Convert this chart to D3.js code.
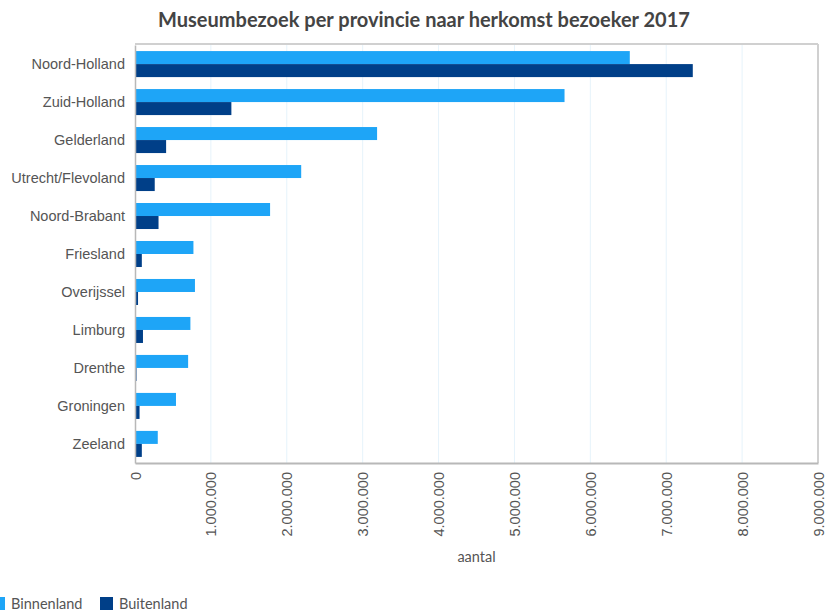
<!DOCTYPE html>
<html>
<head>
<meta charset="utf-8">
<script src="https://cdn.jsdelivr.net/npm/d3@7"></script>
<style>
  body { margin: 0; background: #fff; }
  svg { font-family: Lato, "Open Sans", sans-serif; }
</style>
</head>
<body>
<div id="chart"></div>
<script>
// Data
const provinces = ["Noord-Holland", "Zuid-Holland", "Gelderland", "Utrecht/Flevoland", "Noord-Brabant",
    "Friesland", "Overijssel", "Limburg", "Drenthe", "Groningen", "Zeeland"];
const binnenland = [6520000, 5660000, 3190000, 2190000, 1780000, 770000, 790000, 730000, 700000, 540000, 300000];
const buitenland = [7350000, 1270000, 410000, 260000, 310000, 90000, 40000, 105000, 20000, 60000, 90000];
const xTicks = [0, 1000000, 2000000, 3000000, 4000000, 5000000, 6000000, 7000000, 8000000, 9000000];
const seriesNames = ["Binnenland", "Buitenland"];
const colors = ["#1ea5f7", "#003f88"];

const W = 829, H = 612;
const margin = { top: 45, right: 11, bottom: 149, left: 135 };
const width = W - margin.left - margin.right;
const height = H - margin.top - margin.bottom;

const svg = d3.select("#chart").append("svg")
    .attr("width", W)
    .attr("height", H);

// Title
svg.append("text")
    .attr("x", 424).attr("y", 27)
    .attr("text-anchor", "middle")
    .style("font-size", "20px").style("font-weight", "bold")
    .attr("fill", "#444")
    .text("Museumbezoek per provincie naar herkomst bezoeker 2017");

const g = svg.append("g")
    .attr("transform", "translate(" + margin.left + "," + margin.top + ")");

const x = d3.scaleLinear().domain([0, 9000000]).range([0, width]);
const y = d3.scaleBand().domain(provinces).range([0, height]).paddingInner(0.315).paddingOuter(0.16);
const ySub = d3.scaleBand().domain(seriesNames).range([0, y.bandwidth()]);

// Gridlines
g.selectAll(".grid").data(xTicks.slice(1, -1)).enter().append("line")
    .attr("x1", d => x(d)).attr("x2", d => x(d))
    .attr("y1", 0).attr("y2", height)
    .attr("stroke", "#e6f3fb").attr("stroke-width", 1);

// Bars
const rows = provinces.map((p, i) => ({ p, vals: [binnenland[i], buitenland[i]] }));
const group = g.selectAll(".row").data(rows).enter().append("g")
    .attr("transform", d => "translate(0," + y(d.p) + ")");
group.selectAll("rect").data(d => d.vals.map((v, j) => ({ v, s: seriesNames[j], c: colors[j] })))
    .enter().append("rect")
    .attr("x", 0)
    .attr("y", d => ySub(d.s))
    .attr("height", ySub.bandwidth())
    .attr("width", d => x(d.v))
    .attr("fill", d => d.c);

// Frame (top and right)
g.append("line").attr("x1", 0).attr("x2", width).attr("y1", -1).attr("y2", -1)
    .attr("stroke", "#d0d0d0").attr("stroke-width", 2);
g.append("line").attr("x1", width).attr("x2", width).attr("y1", -1).attr("y2", height)
    .attr("stroke", "#d0d0d0").attr("stroke-width", 2);

// Y axis
const yAxis = g.append("g").call(d3.axisLeft(y).tickSize(0).tickPadding(10));
yAxis.select(".domain").attr("stroke", "#b8b8b8").attr("stroke-width", 1.5);
yAxis.selectAll("text").style("font-size", "14.5px").attr("fill", "#555");

// X axis
const fmt = d3.formatLocale({ decimal: ",", thousands: ".", grouping: [3], currency: ["", ""] }).format(",d");
const xAxis = g.append("g").attr("transform", "translate(0," + height + ")")
    .call(d3.axisBottom(x).tickValues(xTicks).tickFormat(fmt).tickSize(0));
xAxis.select(".domain").attr("stroke", "#b8b8b8").attr("stroke-width", 2);
xAxis.selectAll("text")
    .style("font-size", "14.5px").attr("fill", "#555")
    .attr("text-anchor", "end")
    .attr("transform", "rotate(-90)")
    .attr("x", -9).attr("y", 0).attr("dy", "0.35em");

// X axis label
g.append("text")
    .attr("x", width / 2).attr("y", height + 99)
    .attr("text-anchor", "middle")
    .style("font-size", "14.5px").attr("fill", "#555")
    .text("aantal");

// Legend
const legendX = [-8, 100];
const legend = svg.selectAll(".legend").data(seriesNames).enter().append("g")
    .attr("transform", (d, i) => "translate(" + legendX[i] + ",597)");
legend.append("rect").attr("width", 13).attr("height", 13).attr("fill", (d, i) => colors[i]);
legend.append("text").attr("x", 19).attr("y", 11.5)
    .style("font-size", "14.5px").attr("fill", "#555")
    .text(d => d);
</script>
</body>
</html>
